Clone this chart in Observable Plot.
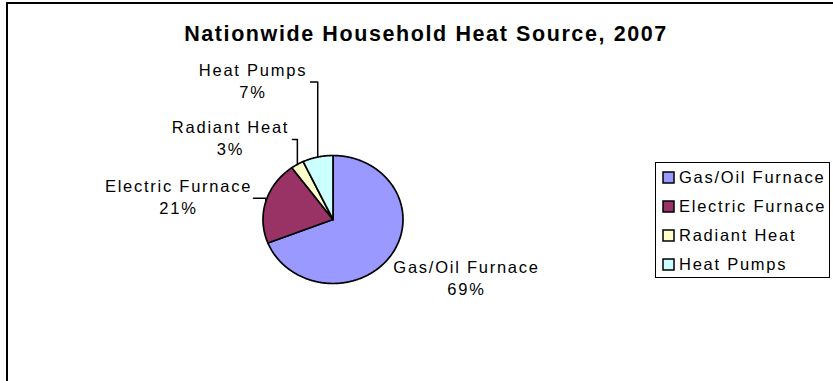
<!DOCTYPE html>
<html><head><meta charset="utf-8">
<script src="https://cdn.jsdelivr.net/npm/d3@7"></script>
<script src="https://cdn.jsdelivr.net/npm/@observablehq/plot@0.6"></script>
<style>
body{margin:0;background:#fff;}
#wrap{position:relative;width:833px;height:381px;overflow:hidden;background:#fff;font-family:"Liberation Sans",Arial,sans-serif;}
#frame{position:absolute;left:6px;top:2px;width:900px;height:400px;border-top:2px solid #000;border-left:2px solid #000;}
#title{position:absolute;left:0;top:24px;width:852px;text-align:center;font-size:21.5px;line-height:21.5px;font-weight:bold;letter-spacing:1.6px;color:#000;white-space:nowrap;}
#chart{position:absolute;left:0;top:0;}
#chart svg text{letter-spacing:1.75px;}
#legend{position:absolute;left:655px;top:162px;width:166px;height:114px;border:1px solid #000;background:#fff;padding:0 0 0 7px;}
.lg-swatches{font-family:"Liberation Sans",Arial,sans-serif;font-size:16.5px;margin:0;color:#000;}
.lg-swatch{height:29px;padding:0;display:flex;align-items:center;}
.lg-swatch svg{margin-right:5px;overflow:visible;}
.lg-swatch rect{stroke:#000;stroke-width:1.5px;}
.lg-swatch-label{letter-spacing:1.75px;overflow:visible;color:#000;}
</style>
</head><body>
<div id="wrap">
  <div id="frame"></div>
  <div id="chart"></div>
  <div id="title"></div>
  <div id="legend"></div>
</div>
<script>
// ---- data ----
const chartTitle = "Nationwide Household Heat Source, 2007";
const categories = ["Gas/Oil Furnace", "Electric Furnace", "Radiant Heat", "Heat Pumps"];
const shares = [69, 21, 3, 7];
const colors = ["#9999FF", "#993366", "#FFFFCC", "#CCFFFF"];

// ---- layout of the dragged data labels (pie-radius units) ----
const labelLayout = [
  {x: 1.907, y: -0.9375, leaderX: null},
  {x: -2.207, y: 0.333, leaderX: -1.136},
  {x: -1.464, y: 1.25, leaderX: -0.579},
  {x: -1.143, y: 2.147, leaderX: -0.321}
];

document.getElementById("title").textContent = chartTitle;

const arcs = d3.pie().sort(null).value(d => d)(shares);
const slicePts = [];
const leaderPts = [];
const labels = [];
arcs.forEach((a, i) => {
  const k = categories[i];
  slicePts.push({k, x: 0, y: 0});
  const n = Math.max(2, Math.ceil((a.endAngle - a.startAngle) / (Math.PI / 360)));
  for (let j = 0; j <= n; j++) {
    const t = a.startAngle + (a.endAngle - a.startAngle) * j / n;
    slicePts.push({k, x: Math.sin(t), y: Math.cos(t)});
  }
  slicePts.push({k, x: 0, y: 0});
  const L = labelLayout[i];
  labels.push({x: L.x, y: L.y, t: k + "\n" + shares[i] + "%"});
  if (L.leaderX != null) {
    const m = (a.startAngle + a.endAngle) / 2;
    leaderPts.push({k, x: L.leaderX, y: L.y});
    leaderPts.push({k, x: Math.sin(m), y: L.y});
    leaderPts.push({k, x: Math.sin(m), y: Math.cos(m)});
  }
});

const chart = Plot.plot({
  width: 833,
  height: 381,
  margin: 0,
  x: {domain: [-1, 1], range: [262.5, 402.5], axis: null},
  y: {domain: [-1, 1], range: [283, 155], axis: null},
  color: {domain: categories, range: colors},
  style: {fontFamily: "Liberation Sans, Arial, sans-serif", fontSize: "16.5px", background: "transparent", overflow: "visible", color: "#000"},
  marks: [
    Plot.line(slicePts, {x: "x", y: "y", z: "k", fill: "k", stroke: "#000", strokeWidth: 1.7, strokeLinejoin: "round"}),
    Plot.line(leaderPts, {x: "x", y: "y", z: "k", stroke: "#000", strokeWidth: 1.5}),
    Plot.text(labels, {x: "x", y: "y", text: "t", fontSize: 16.5, lineHeight: 1.36, lineAnchor: "middle", textAnchor: "middle", dy: -2.5, fill: "#000"})
  ]
});
document.getElementById("chart").appendChild(chart);

const legend = Plot.legend({
  color: {domain: categories, range: colors},
  legend: "swatches",
  columns: 1,
  swatchSize: 11,
  className: "lg"
});
document.getElementById("legend").appendChild(legend);
</script>
</body></html>
